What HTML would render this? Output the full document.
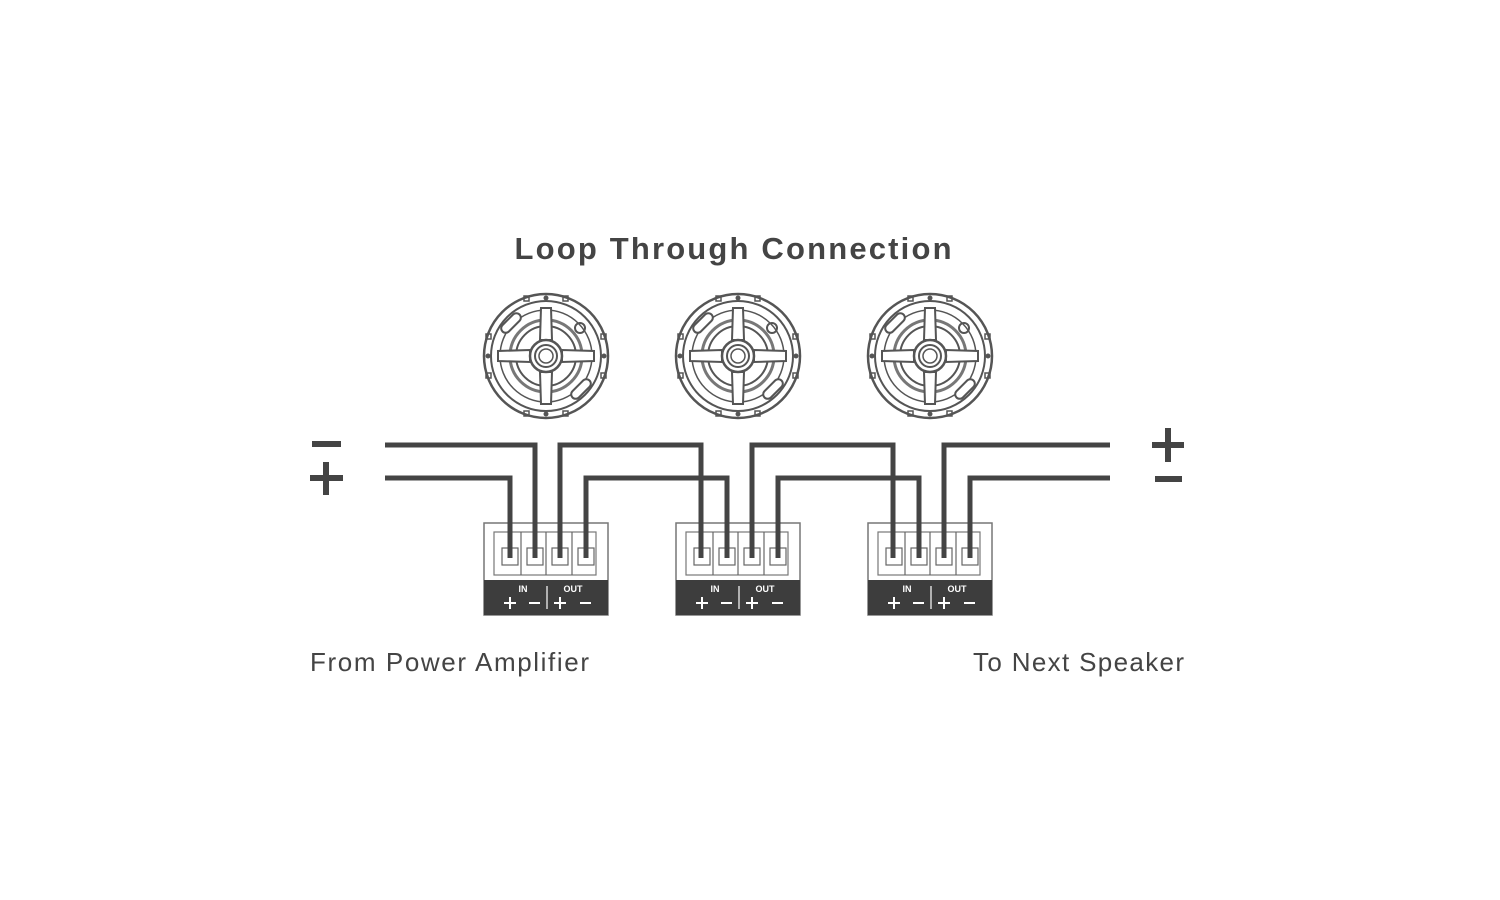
<!DOCTYPE html>
<html><head><meta charset="utf-8"><style>
html,body{margin:0;padding:0;background:#fff;width:1500px;height:900px;overflow:hidden}
svg{display:block}
</style></head><body>
<svg width="1500" height="900" viewBox="0 0 1500 900" xmlns="http://www.w3.org/2000/svg">
<defs>
<g id="spk" fill="none" stroke="#555" stroke-width="2">
  <circle r="62" stroke-width="2.5"/>
  <circle r="55"/>
  <circle r="46" stroke-width="1.5"/>
  <circle r="36" stroke-width="3" stroke="#777"/>
  <circle r="30"/>
  <rect x="-12" y="-4.5" width="24" height="9" rx="4.5" transform="translate(-35,-33) rotate(-45)" fill="#fff"/>
  <rect x="-12" y="-4.5" width="24" height="9" rx="4.5" transform="translate(35,33) rotate(-45)" fill="#fff"/>
  <path d="M-6,-16 L-5,-48 L5,-48 L6,-16 Z M-6,16 L-5,48 L5,48 L6,16 Z M-16,-6 L-48,-5 L-48,5 L-16,6 Z M16,-6 L48,-5 L48,5 L16,6 Z" fill="#fff" stroke-width="2"/>
  <circle r="16" stroke-width="2.5" fill="#fff"/>
  <circle r="11"/>
  <circle r="7" stroke-width="1.5"/>
  <circle cx="34" cy="-28" r="5"/>
  <g fill="#555" stroke="none">
    <circle cx="0" cy="-58" r="2.5"/><circle cx="0" cy="58" r="2.5"/>
    <circle cx="-58" cy="0" r="2.5"/><circle cx="58" cy="0" r="2.5"/>
  </g>
  <g stroke-width="1.5">
    <rect x="-22" y="-60" width="5" height="5"/><rect x="17" y="-60" width="5" height="5"/>
    <rect x="-22" y="55" width="5" height="5"/><rect x="17" y="55" width="5" height="5"/>
    <rect x="-60" y="-22" width="5" height="5"/><rect x="55" y="-22" width="5" height="5"/>
    <rect x="-60" y="17" width="5" height="5"/><rect x="55" y="17" width="5" height="5"/>
  </g>
</g>
<g id="blk">
  <rect x="0" y="0" width="124" height="92" fill="#fff" stroke="#777" stroke-width="1.5"/>
  <rect x="10" y="9" width="102" height="43" fill="none" stroke="#777" stroke-width="1.2"/>
  <g fill="none" stroke="#666" stroke-width="1.2">
    <line x1="37" y1="9" x2="37" y2="52"/><line x1="62" y1="9" x2="62" y2="52"/><line x1="88" y1="9" x2="88" y2="52"/>
    <rect x="18" y="25" width="16" height="17"/><rect x="43" y="25" width="16" height="17"/>
    <rect x="68" y="25" width="16" height="17"/><rect x="94" y="25" width="16" height="17"/>
  </g>
  <rect x="0" y="57" width="124" height="35" fill="#3d3d3d"/>
  <text x="39" y="69" font-size="9" font-weight="bold" fill="#fff" text-anchor="middle" font-family="Liberation Sans, sans-serif">IN</text>
  <text x="89" y="69" font-size="9" font-weight="bold" fill="#fff" text-anchor="middle" font-family="Liberation Sans, sans-serif">OUT</text>
  <line x1="63" y1="63" x2="63" y2="86" stroke="#fff" stroke-width="1.2"/>
  <g stroke="#fff" stroke-width="2">
    <line x1="20" y1="80" x2="32" y2="80"/><line x1="26" y1="74" x2="26" y2="86"/>
    <line x1="45" y1="80" x2="56" y2="80"/>
    <line x1="70" y1="80" x2="82" y2="80"/><line x1="76" y1="74" x2="76" y2="86"/>
    <line x1="96" y1="80" x2="107" y2="80"/>
  </g>
</g>
</defs>
<text x="733" y="259" font-family="Liberation Sans, sans-serif" font-weight="bold" font-size="31" fill="#444" text-anchor="middle" textLength="437" lengthAdjust="spacing">Loop Through Connection</text>
<use href="#spk" x="546" y="356"/>
<use href="#spk" x="738" y="356"/>
<use href="#spk" x="930" y="356"/>
<use href="#blk" x="484" y="523"/>
<use href="#blk" x="676" y="523"/>
<use href="#blk" x="868" y="523"/>
<g fill="none" stroke="#444" stroke-width="5" stroke-linejoin="miter">
  <polyline points="385,445 535,445 535,558"/>
  <polyline points="385,478 510,478 510,558"/>
  <polyline points="560,558 560,445 701,445 701,558"/>
  <polyline points="586,558 586,478 727,478 727,558"/>
  <polyline points="752,558 752,445 893,445 893,558"/>
  <polyline points="778,558 778,478 919,478 919,558"/>
  <polyline points="944,558 944,445 1110,445"/>
  <polyline points="970,558 970,478 1110,478"/>
</g>
<g stroke="#444" stroke-width="6">
  <line x1="312" y1="444" x2="341" y2="444"/>
  <line x1="310" y1="478" x2="343" y2="478"/><line x1="326" y1="462" x2="326" y2="495"/>
  <line x1="1152" y1="445" x2="1184" y2="445"/><line x1="1168" y1="428" x2="1168" y2="462"/>
  <line x1="1155" y1="479" x2="1182" y2="479"/>
</g>
<text x="310" y="671" font-family="Liberation Sans, sans-serif" font-size="26" fill="#444" textLength="279" lengthAdjust="spacing">From Power Amplifier</text>
<text x="973" y="671" font-family="Liberation Sans, sans-serif" font-size="26" fill="#444" textLength="211" lengthAdjust="spacing">To Next Speaker</text>
</svg>
</body></html>
